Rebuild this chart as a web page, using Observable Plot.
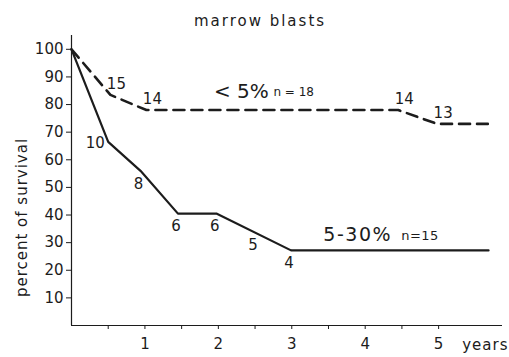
<!DOCTYPE html>
<html>
<head>
<meta charset="utf-8">
<script src="https://cdn.jsdelivr.net/npm/d3@7"></script>
<script src="https://cdn.jsdelivr.net/npm/@observablehq/plot@0.6"></script>
<style>
  html, body { margin: 0; padding: 0; background: #ffffff; }
  svg { display: block; }
</style>
</head>
<body>
<div id="chart"></div>
<script>
// Survival curves by marrow blast percentage
const title = "marrow blasts";
const yLabel = "percent of survival";
const xLabel = "years";

// < 5% blasts, n = 18 (dashed)
const lowYears = [0, 0.53, 1.02, 4.45, 4.98, 5.67];
const lowSurvival = [100, 83.5, 78, 78, 73, 73];
const lowAtRiskYears = [0.53, 1.02, 4.45, 4.98];
const lowAtRisk = ["15", "14", "14", "13"];
const lowGroup = "< 5%";
const lowN = "n = 18";

// 5-30% blasts, n = 15 (solid)
const highYears = [0, 0.5, 0.94, 1.45, 1.98, 2.99, 5.68];
const highSurvival = [100, 66.5, 56, 40.5, 40.5, 27.2, 27.2];
const highAtRiskYears = [0.5, 0.94, 1.45, 1.98, 2.5, 2.99];
const highAtRisk = ["10", "8", "6", "6", "5", "4"];
const highGroup = "5-30%";
const highN = "n=15";

const yTicks = [10, 20, 30, 40, 50, 60, 70, 80, 90, 100];
const xTicks = [0.5, 1, 1.5, 2, 2.5, 3, 3.5, 4, 4.5, 5];

const lowData = lowYears.map((t, i) => ({t, s: lowSurvival[i]}));
const highData = highYears.map((t, i) => ({t, s: highSurvival[i]}));

// value of a polyline at time t
function at(data, t) {
  for (let i = 1; i < data.length; i++) {
    if (t <= data[i].t) {
      const a = data[i - 1], b = data[i];
      return a.s + (b.s - a.s) * (t - a.t) / (b.t - a.t);
    }
  }
  return data[data.length - 1].s;
}

const lowLabels = lowAtRiskYears.map((t, i) => ({t, s: at(lowData, t), text: lowAtRisk[i]}));
const highLabels = highAtRiskYears.map((t, i) => ({t, s: at(highData, t), text: highAtRisk[i]}));

const ink = "#1c1c1c";
const font = "DejaVu Sans, sans-serif";

const chart = Plot.plot({
  width: 509,
  height: 357,
  marginLeft: 71,
  marginRight: 7,
  marginTop: 35,
  marginBottom: 32,
  style: {fontFamily: font, fontSize: "15px", color: ink, background: "#ffffff"},
  x: {domain: [0, 5.87]},
  y: {domain: [0, 105]},
  marks: [
    Plot.ruleX([0], {y1: 0, y2: 105, stroke: ink, strokeWidth: 1.2}),
    Plot.ruleY([0], {x1: 0, x2: 5.87, stroke: ink, strokeWidth: 1.2}),
    Plot.axisY({ticks: yTicks, tickSize: 5, tickPadding: 3, label: null, fontSize: 15, stroke: ink}),
    Plot.axisX({ticks: xTicks, tickSize: 4, tickPadding: 9, label: null, fontSize: 15, stroke: ink,
      tickFormat: d => Number.isInteger(d) ? d : ""}),
    Plot.line(lowData, {x: "t", y: "s", stroke: ink, strokeWidth: 2.6, strokeDasharray: "11,7", strokeLinejoin: "round"}),
    Plot.line(highData, {x: "t", y: "s", stroke: ink, strokeWidth: 2.2, strokeLinejoin: "round"}),
    // numbers at risk: above the dashed curve, below the solid one
    Plot.text(lowLabels, {x: "t", y: "s", text: "text", dx: 6, dy: -11, fontSize: 15, fill: ink}),
    Plot.text(highLabels.slice(1), {x: "t", y: "s", text: "text", dx: -2, dy: 13, fontSize: 15, fill: ink}),
    Plot.text(highLabels.slice(0, 1), {x: "t", y: "s", text: "text", dx: -13, dy: 1, fontSize: 15, fill: ink}),
    // group labels
    Plot.text([lowGroup], {x: lowYears[2] + 0.92, y: lowSurvival[2], text: d => d, textAnchor: "start", dy: -18, fontSize: 20, fill: ink}),
    Plot.text([lowN], {x: lowYears[2] + 1.73, y: lowSurvival[2], text: d => d, textAnchor: "start", dy: -18, fontSize: 12, fill: ink}),
    Plot.text([highGroup], {x: highYears[5] + 0.44, y: highSurvival[5], text: d => d, textAnchor: "start", dy: -15, fontSize: 19, fill: ink}),
    Plot.text([highN], {x: highYears[5] + 1.5, y: highSurvival[5], text: d => d, textAnchor: "start", dy: -15, fontSize: 13, fill: ink}),
    // title and axis labels
    Plot.text([title], {frameAnchor: "top", dx: -27, dy: -20, fontSize: 15, fill: ink}),
    Plot.text([yLabel], {frameAnchor: "left", textAnchor: "middle", rotate: -90, dx: -49, dy: 37, fontSize: 15, fill: ink}),
    Plot.text([xLabel], {frameAnchor: "bottom-right", textAnchor: "end", dx: 6, dy: 24, fontSize: 15, fill: ink})
  ]
});

// wider letter spacing for the lettered labels
const spacing = new Map([[title, "2px"], [yLabel, "1px"], [xLabel, "1px"], [highGroup, "1.5px"], [highN, "0.5px"]]);
d3.select(chart).selectAll("text").each(function () {
  const s = spacing.get(this.textContent);
  if (s) d3.select(this).style("letter-spacing", s);
});

document.getElementById("chart").appendChild(chart);
</script>
</body>
</html>
